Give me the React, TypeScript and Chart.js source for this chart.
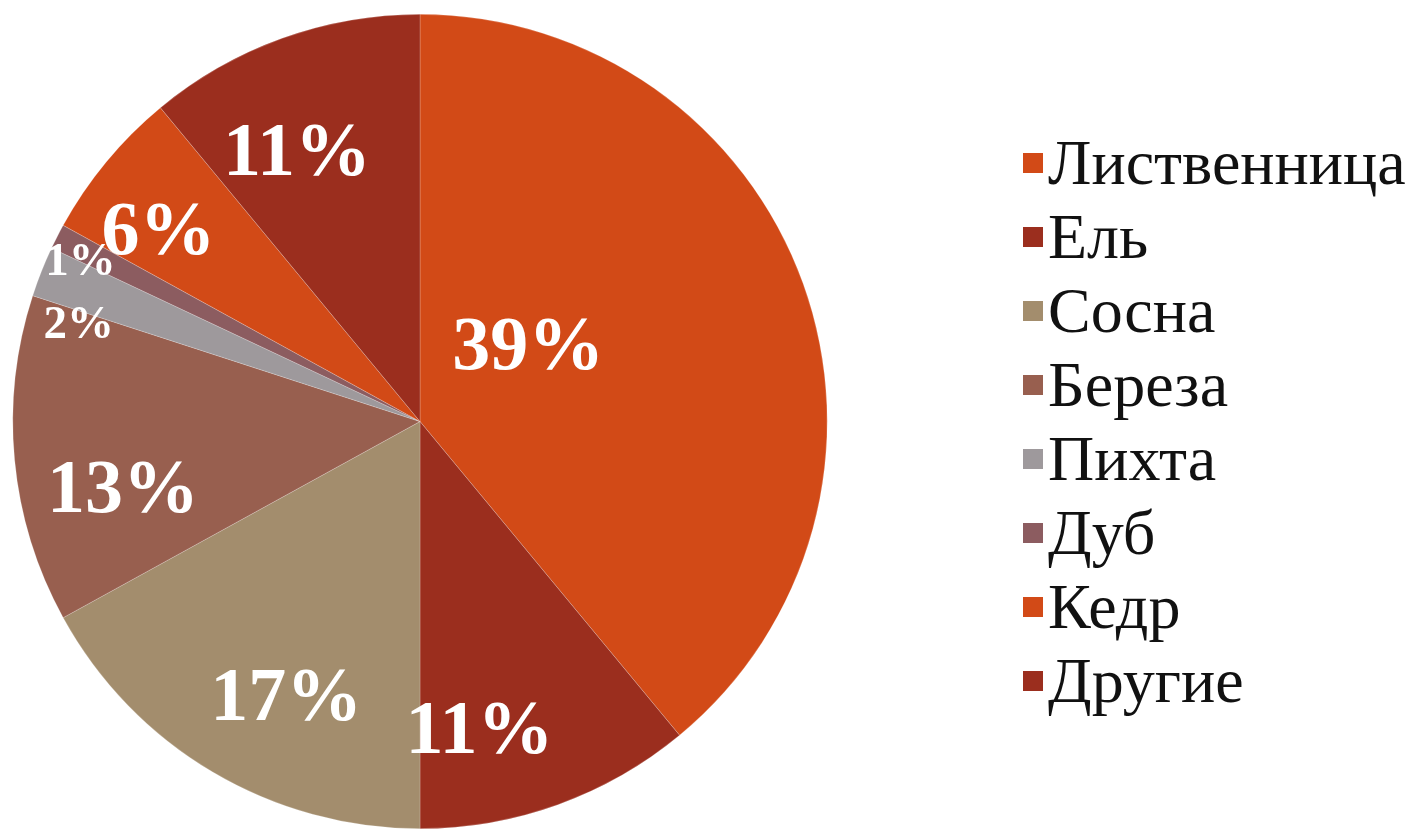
import React, { useEffect, useRef } from "react";
import { Chart, registerables } from "chart.js";

Chart.register(...registerables);

const categories = ["Лиственница", "Ель", "Сосна", "Береза", "Пихта", "Дуб", "Кедр", "Другие"];
const shares = [39, 11, 17, 13, 2, 1, 6, 11];
const valueLabels = ["39%", "11%", "17%", "13%", "2%", "1%", "6%", "11%"];
const sliceColors = ["#D24A17", "#9B2E1E", "#A38D6D", "#985F4F", "#9E999C", "#8C5C60", "#D24A17", "#9B2E1E"];

// label placement styling (radial fraction, angle shift in degrees, font size)
const labelRadius = [0.32, 0.78, 0.76, 0.75, 0.87, 0.92, 0.79, 0.72];
const labelAngleShift = [-14, 9, -5, -8, -6, -2, -4, -5];
const labelFontSize = [76, 76, 76, 76, 47, 47, 76, 76];

const SERIF = "'Liberation Serif', 'Times New Roman', serif";

const labelPlugin = {
  id: "sliceLabels",
  afterDatasetsDraw(chart: any) {
    const { ctx } = chart;
    const meta = chart.getDatasetMeta(0);
    ctx.save();
    ctx.fillStyle = "#ffffff";
    ctx.textAlign = "center";
    ctx.textBaseline = "middle";
    meta.data.forEach((arc: any, i: number) => {
      const { x, y, startAngle, endAngle, outerRadius } = arc.getProps(
        ["x", "y", "startAngle", "endAngle", "outerRadius"],
        true
      );
      const mid = (startAngle + endAngle) / 2 + (labelAngleShift[i] * Math.PI) / 180;
      const r = outerRadius * labelRadius[i];
      ctx.font = `bold ${labelFontSize[i]}px ${SERIF}`;
      ctx.fillText(valueLabels[i], x + Math.cos(mid) * r, y + Math.sin(mid) * r);
    });
    ctx.restore();
  },
};

const legendPlugin = {
  id: "sideLegend",
  afterDraw(chart: any) {
    const { ctx } = chart;
    const boxX = 1023;
    const firstCenter = 163;
    const step = 74;
    const box = 20;
    ctx.save();
    ctx.font = `64px ${SERIF}`;
    ctx.textAlign = "left";
    ctx.textBaseline = "alphabetic";
    categories.forEach((name, i) => {
      const cy = firstCenter + i * step;
      ctx.fillStyle = sliceColors[i];
      ctx.fillRect(boxX, cy - box / 2, box, box);
      ctx.fillStyle = "#111111";
      ctx.fillText(name, boxX + box + 5, cy + 21);
    });
    ctx.restore();
  },
};

export default function App() {
  const ref = useRef<HTMLCanvasElement | null>(null);

  useEffect(() => {
    document.body.style.margin = "0";
    const canvas = ref.current;
    if (!canvas) return;
    const chart = new Chart(canvas, {
      type: "pie",
      data: {
        labels: categories,
        datasets: [
          {
            data: shares,
            backgroundColor: sliceColors,
            borderColor: "rgba(255,255,255,0.35)",
            borderWidth: 0.6,
          },
        ],
      },
      options: {
        animation: false,
        responsive: false,
        maintainAspectRatio: false,
        layout: { padding: { left: 12, top: 14, right: 583, bottom: 0 } },
        plugins: {
          legend: { display: false },
          tooltip: { enabled: false },
        },
      },
      plugins: [labelPlugin, legendPlugin],
    });
    return () => chart.destroy();
  }, []);

  return (
    <div style={{ width: 1411, height: 829, background: "#ffffff" }}>
      <canvas ref={ref} width={1411} height={829} style={{ display: "block" }} />
    </div>
  );
}
